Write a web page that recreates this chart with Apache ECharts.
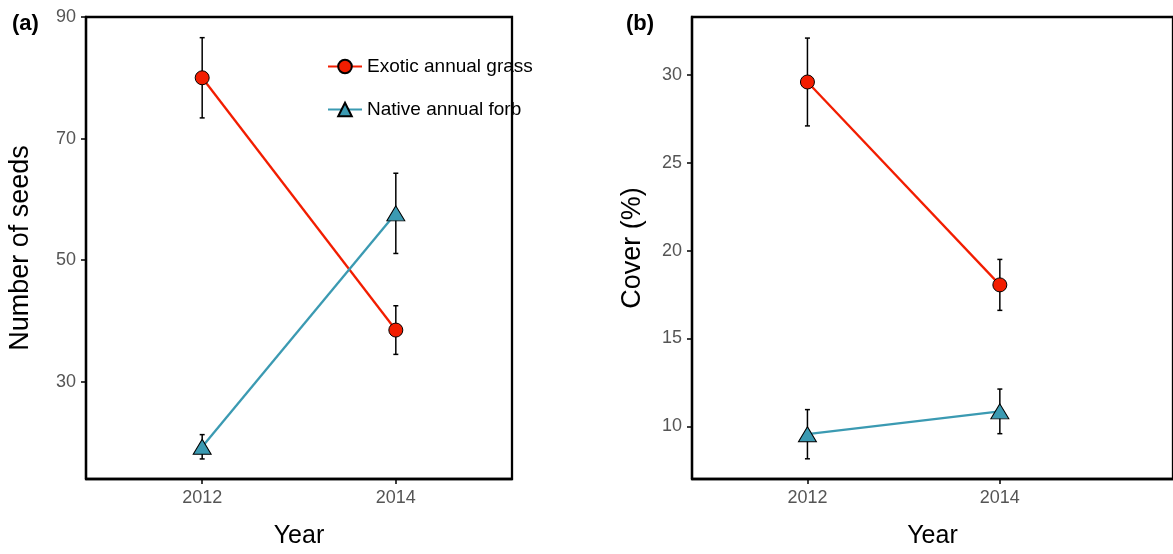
<!DOCTYPE html>
<html>
<head>
<meta charset="utf-8">
<script src="https://cdn.jsdelivr.net/npm/echarts@6/dist/echarts.min.js"></script>
<style>
html,body{margin:0;padding:0;background:#fff;}
#chart{width:1173px;height:554px;}
</style>
</head>
<body>
<div id="chart"></div>
<script>
// ---- data ----
const years = [2012, 2014];
const seedsGrass = [80, 38.5];
const seedsGrassSE = [6.6, 4.0];
const seedsForb = [19.3, 57.7];
const seedsForbSE = [2.0, 6.6];
const coverGrass = [29.6, 18.05];
const coverGrassSE = [2.5, 1.45];
const coverForb = [9.55, 10.85];
const coverForbSE = [1.4, 1.27];
const seedTicks = [30, 50, 70, 90];
const coverTicks = [10, 15, 20, 25, 30];
const yearTicks = [2012, 2014];

const RED = '#f21d00';
const BLUE = '#3b9ab2';
const FONT = 'Liberation Sans, Arial, sans-serif';

function pts(vals){ return years.map((y,i)=>[y, vals[i]]); }
function errs(vals, se){ return years.map((y,i)=>[y, vals[i]-se[i], vals[i]+se[i]]); }

function errRender(params, api){
  const x = api.value(0), lo = api.value(1), hi = api.value(2);
  const a = api.coord([x, hi]), b = api.coord([x, lo]);
  const w = 2.5;
  const st = {stroke:'#000', lineWidth:1.5};
  return {type:'group', children:[
    {type:'line', shape:{x1:a[0], y1:a[1], x2:b[0], y2:b[1]}, style:st},
    {type:'line', shape:{x1:a[0]-w, y1:a[1], x2:a[0]+w, y2:a[1]}, style:st},
    {type:'line', shape:{x1:b[0]-w, y1:b[1], x2:b[0]+w, y2:b[1]}, style:st}
  ]};
}

function xAx(gi, max){
  return {
    type:'value', gridIndex:gi, min:2010.8, max:max,
    name:'Year', nameLocation:'middle', nameGap:45,
    nameTextStyle:{fontSize:25, color:'#000', fontFamily:FONT},
    axisLine:{show:true, lineStyle:{color:'#000', width:2.3}},
    axisTick:{show:true, inside:false, length:5, customValues:yearTicks, lineStyle:{color:'#000', width:1.5}},
    axisLabel:{customValues:yearTicks, formatter:(v)=>String(v), margin:10, fontSize:18, color:'#555', fontFamily:FONT},
    splitLine:{show:false}
  };
}
function yAx(gi, min, max, ticks, name, gap){
  return {
    type:'value', gridIndex:gi, min:min, max:max,
    name:name, nameLocation:'middle', nameGap:gap,
    nameTextStyle:{fontSize:27, color:'#000', fontFamily:FONT},
    axisLine:{show:true, lineStyle:{color:'#000', width:2.3}},
    axisTick:{show:true, inside:false, length:5, customValues:ticks, lineStyle:{color:'#000', width:1.5}},
    axisLabel:{customValues:ticks, margin:10, fontSize:18, color:'#555', fontFamily:FONT},
    splitLine:{show:false}
  };
}

function lineSeries(name, xi, vals, color, symbol, size){
  return {
    type:'line', name:name, xAxisIndex:xi, yAxisIndex:xi, data:pts(vals),
    symbol:symbol, symbolSize:size, showSymbol:true, z:5,
    lineStyle:{color:color, width:2.3},
    itemStyle:{color:color, borderColor:'#000', borderWidth:1},
    emphasis:{disabled:true}, animation:false
  };
}
function errSeries(xi, vals, se){
  return {
    type:'custom', name:'err', xAxisIndex:xi, yAxisIndex:xi,
    data:errs(vals, se), renderItem:errRender, encode:{x:0, y:[1,2]},
    z:3, silent:true, animation:false
  };
}

const chart = echarts.init(document.getElementById('chart'));
chart.setOption({
  backgroundColor:'#fff',
  animation:false,
  title:[
    {text:'(a)', left:7, top:8, textStyle:{fontSize:22, fontWeight:'bold', color:'#000', fontFamily:FONT}},
    {text:'(b)', left:621, top:8, textStyle:{fontSize:22, fontWeight:'bold', color:'#000', fontFamily:FONT}}
  ],
  legend:{
    orient:'vertical', left:322, top:52, itemWidth:34, itemHeight:17, itemGap:24,
    data:['Exotic annual grass','Native annual forb'],
    textStyle:{fontSize:19, color:'#000', fontFamily:FONT},
    selectedMode:false
  },
  grid:[
    {left:86, right:661, top:17, bottom:73, show:true, borderColor:'#000', borderWidth:2.3, containLabel:false},
    {left:692, right:-14, top:17, bottom:73, show:true, borderColor:'#000', borderWidth:2.3, containLabel:false}
  ],
  xAxis:[xAx(0, 2015.2), xAx(1, 2015.8)],
  yAxis:[
    yAx(0, 14, 90, seedTicks, 'Number of seeds', 52),
    yAx(1, 7, 33.3, coverTicks, 'Cover (%)', 46)
  ],
  series:[
    errSeries(0, seedsGrass, seedsGrassSE),
    errSeries(0, seedsForb, seedsForbSE),
    lineSeries('Exotic annual grass', 0, seedsGrass, RED, 'circle', 14),
    lineSeries('Native annual forb', 0, seedsForb, BLUE, 'triangle', [18,15]),
    errSeries(1, coverGrass, coverGrassSE),
    errSeries(1, coverForb, coverForbSE),
    lineSeries('Exotic annual grass', 1, coverGrass, RED, 'circle', 14),
    lineSeries('Native annual forb', 1, coverForb, BLUE, 'triangle', [18,15])
  ]
});
</script>
</body>
</html>
